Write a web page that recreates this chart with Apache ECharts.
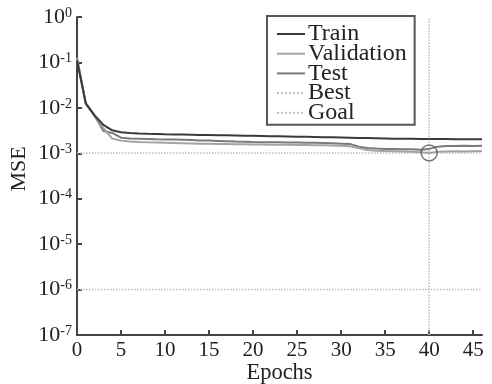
<!DOCTYPE html>
<html><head><meta charset="utf-8">
<script src="https://cdn.jsdelivr.net/npm/echarts@6/dist/echarts.min.js"></script>
<style>html,body{margin:0;padding:0;background:#fff}#c{width:492px;height:384px}</style>
</head><body><div id="c"></div>
<script>
const epochs = [0,1,2,3,4,5,6,7,8,9,10,11,12,13,14,15,16,17,18,19,20,21,22,23,24,25,26,27,28,29,30,31,32,33,34,35,36,37,38,39,40,41,42,43,44,45,46];
const train = [0.11,0.0125,0.0068,0.0042,0.0032,0.0029,0.0028,0.00272,0.00268,0.00265,0.00262,0.0026,0.00258,0.00256,0.00254,0.00252,0.0025,0.00248,0.00246,0.00244,0.00242,0.0024,0.00238,0.00236,0.00234,0.00232,0.0023,0.00228,0.00226,0.00224,0.00222,0.0022,0.00218,0.00216,0.00214,0.00212,0.0021,0.00209,0.00208,0.00207,0.00206,0.00205,0.00205,0.00204,0.00204,0.00203,0.00203];
const validation = [0.12,0.0122,0.0066,0.0036,0.0021,0.0019,0.00182,0.00178,0.00175,0.00173,0.00171,0.00169,0.00167,0.00165,0.00163,0.00162,0.00161,0.0016,0.00159,0.00158,0.00157,0.00156,0.00155,0.00155,0.00154,0.00153,0.00152,0.00151,0.0015,0.00149,0.00147,0.00142,0.0013,0.00118,0.00114,0.00112,0.00111,0.0011,0.00108,0.00106,0.00102,0.00108,0.0011,0.00111,0.0011,0.00111,0.00112];
const test = [0.13,0.0124,0.0067,0.0031,0.0028,0.0022,0.00212,0.0021,0.00207,0.00204,0.00202,0.002,0.00198,0.00195,0.00192,0.0019,0.00187,0.00184,0.00181,0.00179,0.00177,0.00176,0.00175,0.00174,0.00173,0.00172,0.00171,0.0017,0.00168,0.00166,0.00163,0.0016,0.0014,0.0013,0.00127,0.00125,0.00124,0.00123,0.00122,0.0012,0.00125,0.0014,0.00145,0.00145,0.00146,0.00145,0.00146];
const bestEpoch = 40;
const bestValue = 0.00102;
const goalValue = 1e-6;
const xTicks = [0,5,10,15,20,25,30,35,40,45];

const pair = arr => epochs.map((e,i)=>[e,arr[i]]);
const font = 'Liberation Serif';
const dotted = {color:'#bdbdbd',width:1.5,type:'dotted'};
const chart = echarts.init(document.getElementById('c'), null, {renderer:'canvas'});
chart.setOption({
  animation:false,
  backgroundColor:'#fff',
  grid:{left:77,right:10,top:17,bottom:49,outerBoundsMode:'none',containLabel:false},
  legend:{
    orient:'vertical', left:267, top:16,
    padding:[6,8,0,9], itemGap:-4.3, itemWidth:28, itemHeight:10,
    borderColor:'#555', borderWidth:2, backgroundColor:'#fff',
    itemStyle:{opacity:0},
    textStyle:{fontFamily:font,fontSize:24,color:'#222',padding:[0,0,0,-2]},
    data:['Train','Validation','Test','Best','Goal']
  },
  xAxis:{
    type:'value', min:0, max:46,
    axisLine:{show:true,onZero:false,lineStyle:{color:'#444',width:2}},
    axisTick:{show:true,inside:true,length:5,lineStyle:{color:'#444',width:2},customValues:xTicks},
    axisLabel:{fontFamily:font,fontSize:21,color:'#222',margin:5,customValues:xTicks},
    splitLine:{show:false},
    name:'Epochs', nameLocation:'middle', nameGap:27, nameMoveOverlap:false,
    nameTextStyle:{fontFamily:font,fontSize:22.5,color:'#222'}
  },
  yAxis:{
    type:'log', logBase:10, min:1e-7, max:1,
    axisLine:{show:true,lineStyle:{color:'#444',width:2}},
    axisTick:{show:true,inside:true,length:5,lineStyle:{color:'#444',width:2}},
    axisLabel:{
      fontFamily:font,color:'#222',margin:5,
      formatter:function(v){const e=Math.round(Math.log10(v));return '{b|10}{s|'+e+'}';},
      rich:{b:{fontFamily:font,fontSize:22,color:'#222',lineHeight:22},
            s:{fontFamily:font,fontSize:14,color:'#222',verticalAlign:'top',lineHeight:14}}
    },
    splitLine:{show:false},
    name:'MSE', nameLocation:'middle', nameGap:47, nameMoveOverlap:false,
    nameTextStyle:{fontFamily:font,fontSize:22,color:'#222',padding:[0,0,0,14]}
  },
  series:[
    {name:'Train',type:'line',data:pair(train),symbol:'none',lineStyle:{color:'#3a3a3a',width:2},itemStyle:{color:'#3a3a3a'},z:5},
    {name:'Validation',type:'line',data:pair(validation),symbol:'none',lineStyle:{color:'#a3a3a3',width:2},itemStyle:{color:'#a3a3a3'},z:4},
    {name:'Test',type:'line',data:pair(test),symbol:'none',lineStyle:{color:'#7a7a7a',width:2},itemStyle:{color:'#7a7a7a'},z:3},
    {name:'Best',type:'line',data:[[0,bestValue],[46,bestValue]],symbol:'none',lineStyle:dotted,itemStyle:{color:'#bdbdbd'},z:1},
    {name:'Best',type:'line',data:[[bestEpoch,1e-7],[bestEpoch,1]],symbol:'none',lineStyle:dotted,itemStyle:{color:'#bdbdbd'},z:1},
    {name:'Goal',type:'line',data:[[0,goalValue],[46,goalValue]],symbol:'none',lineStyle:dotted,itemStyle:{color:'#bdbdbd'},z:1},
    {name:'bestPoint',type:'scatter',data:[[bestEpoch,bestValue]],symbol:'circle',symbolSize:16,
     itemStyle:{color:'rgba(0,0,0,0)',borderColor:'#555',borderWidth:1.5},z:6}
  ]
});
</script></body></html>
